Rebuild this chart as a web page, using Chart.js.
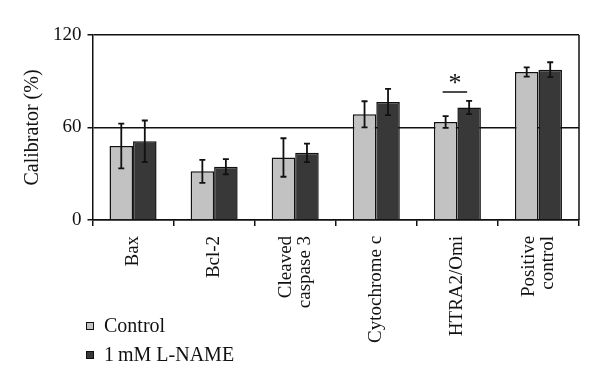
<!DOCTYPE html>
<html>
<head>
<meta charset="utf-8">
<title>Calibrator</title>
<script src="https://cdn.jsdelivr.net/npm/chart.js@4.4.1/dist/chart.umd.min.js"></script>
<style>
    html, body { margin: 0; padding: 0; background: #fff; }
    #wrap { position: relative; width: 600px; height: 386px; }
    #legend {
        position: absolute; left: 86px; top: 311px;
        font-family: "Liberation Serif", "DejaVu Serif", serif; font-size: 20px; color: #111;
    }
    .legend-item { display: flex; align-items: center; height: 29px; }
    .legend-box { width: 6px; height: 6px; border: 1px solid #111; margin-right: 10px; }
</style>
</head>
<body>
<div id="wrap">
    <canvas id="chart" width="600" height="386"></canvas>
    <div id="legend"></div>
</div>
<script>
const categories = ['Bax', 'Bcl-2', ['Cleaved', 'caspase 3'], 'Cytochrome c', 'HTRA2/Omi', ['Positive', 'control']];
const seriesNames = ['Control', '1\u2009mM L-NAME'];
const seriesColors = ['#c2c2c2', '#383838'];
const controlValues = [48, 31.5, 40.5, 68.5, 63.5, 96];
const controlErrors = [14.5, 7.5, 12.5, 8.5, 3.8, 3];
const lnameValues = [51, 34.5, 43.5, 76.5, 73, 97.5];
const lnameErrors = [13.5, 5, 6, 8.5, 4.3, 4.8];
const yTicks = [0, 60, 120];
const sigIndex = 4;      // HTRA2/Omi
const sigLevel = 83;
const sigLabel = '*';

const serif = '"Liberation Serif", "DejaVu Serif", serif';
const xLabelSize = 19;
const xLineHeight = 1.0;

// center two-line rotated labels on their category instead of hanging to the right
const centerLabelsPlugin = {
    id: 'centerLabels',
    beforeDraw(chart) {
        const scale = chart.scales.x;
        const items = scale.getLabelItems(chart.chartArea);
        items.forEach(item => {
            if (Array.isArray(item.label) && !item.centered) {
                const shift = (item.label.length - 1) * xLabelSize * xLineHeight / 2;
                item.options.translation[0] -= shift;
                item.centered = true;
            }
        });
    }
};

// error bars, right frame line and significance bracket
const extrasPlugin = {
    id: 'extras',
    afterDatasetsDraw(chart) {
        const ctx = chart.ctx;
        const yScale = chart.scales.y;
        const area = chart.chartArea;

        ctx.save();
        ctx.strokeStyle = '#111';
        ctx.lineWidth = 1.8;

        chart.data.datasets.forEach((ds, di) => {
            const meta = chart.getDatasetMeta(di);
            meta.data.forEach((bar, i) => {
                const v = ds.data[i];
                const e = ds.errors[i];
                const top = yScale.getPixelForValue(v + e);
                const bottom = yScale.getPixelForValue(v - e);
                ctx.beginPath();
                ctx.moveTo(bar.x, top);
                ctx.lineTo(bar.x, bottom);
                ctx.moveTo(bar.x - 3, top);
                ctx.lineTo(bar.x + 3, top);
                ctx.moveTo(bar.x - 3, bottom);
                ctx.lineTo(bar.x + 3, bottom);
                ctx.stroke();
            });
        });

        // right side of the frame
        ctx.lineWidth = 1.5;
        ctx.beginPath();
        ctx.moveTo(area.right, area.top);
        ctx.lineTo(area.right, area.bottom);
        ctx.stroke();

        // significance bracket
        const left = chart.getDatasetMeta(0).data[sigIndex].x - 3;
        const right = chart.getDatasetMeta(1).data[sigIndex].x - 2;
        const yLine = yScale.getPixelForValue(sigLevel);
        ctx.beginPath();
        ctx.moveTo(left, yLine);
        ctx.lineTo(right, yLine);
        ctx.stroke();
        ctx.fillStyle = '#111';
        ctx.font = '26px ' + serif;
        ctx.textAlign = 'center';
        ctx.textBaseline = 'alphabetic';
        ctx.fillText(sigLabel, (left + right) / 2, yLine - 1);
        ctx.restore();
    }
};

function buildLegend() {
    const legend = document.getElementById('legend');
    seriesNames.forEach((name, i) => {
        const item = document.createElement('div');
        item.className = 'legend-item';
        const box = document.createElement('span');
        box.className = 'legend-box';
        box.style.background = seriesColors[i];
        const label = document.createElement('span');
        label.textContent = name;
        item.appendChild(box);
        item.appendChild(label);
        legend.appendChild(item);
    });
}

document.addEventListener('DOMContentLoaded', () => {
    buildLegend();

    new Chart(document.getElementById('chart'), {
        type: 'bar',
        data: {
            labels: categories,
            datasets: [{
                label: seriesNames[0],
                data: controlValues,
                errors: controlErrors,
                backgroundColor: seriesColors[0],
                borderColor: '#111',
                borderWidth: 1.5
            }, {
                label: seriesNames[1],
                data: lnameValues,
                errors: lnameErrors,
                backgroundColor: seriesColors[1],
                borderColor: '#111',
                borderWidth: 1.5
            }]
        },
        options: {
            responsive: false,
            animation: false,
            events: [],
            datasets: {
                bar: {
                    categoryPercentage: 0.58,
                    barPercentage: 1
                }
            },
            layout: {
                padding: { top: 35, right: 21, bottom: 33, left: 21 }
            },
            plugins: {
                legend: { display: false },
                tooltip: { enabled: false }
            },
            scales: {
                x: {
                    grid: {
                        offset: true,
                        drawOnChartArea: false,
                        tickLength: 6,
                        color: '#111',
                        lineWidth: 1.5
                    },
                    border: { color: '#111', width: 1.5 },
                    ticks: {
                        color: '#111',
                        maxRotation: 90,
                        minRotation: 90,
                        padding: 10,
                        font: { family: serif, size: xLabelSize, lineHeight: xLineHeight }
                    }
                },
                y: {
                    min: 0,
                    max: 120,
                    afterBuildTicks: axis => {
                        axis.ticks = yTicks.map(value => ({ value }));
                    },
                    grid: {
                        color: '#111',
                        lineWidth: 1.5,
                        tickLength: 5
                    },
                    border: { color: '#111', width: 1.5 },
                    ticks: {
                        color: '#111',
                        padding: 6,
                        font: { family: serif, size: 19 }
                    },
                    title: {
                        display: true,
                        text: 'Calibrator (%)',
                        color: '#111',
                        padding: { top: 0, bottom: 2 },
                        font: { family: serif, size: 20 }
                    }
                }
            }
        },
        plugins: [centerLabelsPlugin, extrasPlugin]
    });
});
</script>
</body>
</html>
